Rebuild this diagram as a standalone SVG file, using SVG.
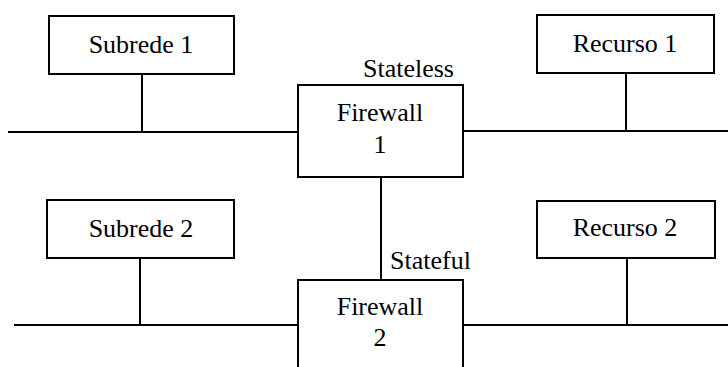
<svg xmlns="http://www.w3.org/2000/svg" width="728" height="367" viewBox="0 0 728 367">
<style>
.box{fill:#fff;stroke:#000;stroke-width:2}
.ln{stroke:#000;stroke-width:2;fill:none}
text{font-family:"Liberation Serif","Times New Roman",serif;font-size:26px;fill:#000}
.c{text-anchor:middle}
</style>
<rect width="728" height="367" fill="#fff"/>
<g id="connectors">
<line class="ln" x1="8" y1="132" x2="298" y2="132"/>
<line class="ln" x1="142" y1="74" x2="142" y2="132"/>
<line class="ln" x1="463" y1="131" x2="728" y2="131"/>
<line class="ln" x1="626" y1="73" x2="626" y2="131"/>
<line class="ln" x1="381" y1="177" x2="381" y2="280"/>
<line class="ln" x1="14" y1="325" x2="298" y2="325"/>
<line class="ln" x1="140" y1="258" x2="140" y2="325"/>
<line class="ln" x1="463" y1="325" x2="728" y2="325"/>
<line class="ln" x1="627" y1="258" x2="627" y2="325"/>
</g>
<g id="subrede1">
<rect class="box" x="49" y="16" width="185" height="58"/>
<text class="c" x="141" y="53">Subrede 1</text>
</g>
<g id="recurso1">
<rect class="box" x="537" y="15" width="177" height="58"/>
<text class="c" x="625" y="52">Recurso 1</text>
</g>
<g id="firewall1">
<rect class="box" x="298" y="85" width="165" height="92"/>
<text class="c" x="380" y="121">Firewall</text>
<text class="c" x="380" y="153">1</text>
<text x="363" y="77">Stateless</text>
</g>
<g id="subrede2">
<rect class="box" x="47" y="200" width="187" height="58"/>
<text class="c" x="141" y="237">Subrede 2</text>
</g>
<g id="recurso2">
<rect class="box" x="537" y="201" width="178" height="57"/>
<text class="c" x="625" y="236">Recurso 2</text>
</g>
<g id="firewall2">
<rect class="box" x="298" y="280" width="165" height="100"/>
<text class="c" x="380" y="315">Firewall</text>
<text class="c" x="380" y="346">2</text>
<text x="390" y="269">Stateful</text>
</g>
</svg>
